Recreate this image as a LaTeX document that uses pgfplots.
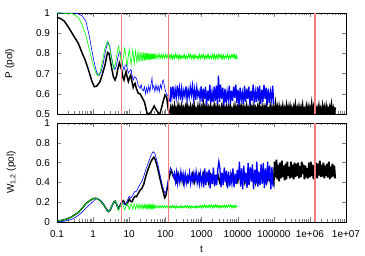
\documentclass[border=0pt]{standalone}
\usepackage{pgfplots}
\pgfplotsset{compat=1.18}
\usepackage{fontspec}
\setmainfont{Liberation Sans}
\definecolor{redl}{RGB}{245,125,125}
\begin{document}
\begin{tikzpicture}
\begin{axis}[scale only axis, width=289pt, height=101pt, xmode=log, xmin=0.1, xmax=1e7,
  xtick={0.1,1,10,100,1000,10000,100000,1000000,10000000},
  tick align=inside, major tick length=4.5pt, minor tick length=2.5pt,
  axis line style={line width=0.7pt},
  tick label style={font=\fontsize{10}{12}\selectfont},
  label style={font=\fontsize{10}{12}\selectfont},
  yticklabel style={xshift=-3.5pt},
  /pgf/number format/assume math mode=true,
  at={(57pt,-114pt)}, anchor=south west,
  ymin=0.5, ymax=1, ytick={0.5,0.6,0.7,0.8,0.9,1}, xticklabels={},
  ylabel={P (pol)}, ylabel style={at={(axis description cs:-0.163,0.5)}, anchor=center}]
% black
\addplot[black, line width=1.5pt] table[x expr={pow(10,\thisrowno{0})}, y index=1, row sep=\\] {
-1 0.979\\ -0.9 0.972\\ -0.8 0.96\\ -0.69 0.932\\ -0.55 0.89\\ -0.41 0.85\\ -0.3 0.80\\ -0.22 0.767\\ -0.15 0.73\\ -0.086 0.693\\ -0.03 0.66\\ 0.033 0.635\\ 0.1 0.638\\ 0.19 0.66\\ 0.26 0.70\\ 0.33 0.743\\ 0.37 0.78\\ 0.40 0.805\\ 0.44 0.80\\ 0.48 0.76\\ 0.515 0.726\\ 0.56 0.685\\ 0.607 0.668\\ 0.65 0.69\\ 0.68 0.72\\ 0.727 0.754\\ 0.76 0.735\\ 0.79 0.718\\ 0.825 0.68\\ 0.855 0.668\\ 0.88 0.69\\ 0.91 0.71\\ 0.94 0.685\\ 0.975 0.66\\ 1.01 0.68\\ 1.04 0.693\\ 1.075 0.66\\ 1.11 0.632\\ 1.135 0.645\\ 1.16 0.652\\ 1.2 0.625\\ 1.25 0.602\\ 1.3 0.60\\ 1.36 0.58\\ 1.42 0.56\\ 1.46 0.53\\ 1.49 0.505\\ 1.55 0.50\\ 1.62 0.515\\ 1.69 0.54\\ 1.75 0.52\\ 1.81 0.505\\ 1.85 0.50\\ 1.9 0.535\\ 1.95 0.57\\ 1.99 0.594\\ 2.04 0.58\\ 2.08 0.52\\ 2.12 0.503\\
};
\addplot[black, line width=1.8pt] table[x expr={pow(10,\thisrowno{0})}, y index=1, row sep=\\] {
2.12 0.503\\
2.150 0.532\\ 2.175 0.499\\ 2.200 0.527\\ 2.225 0.503\\ 2.250 0.536\\ 2.275 0.495\\ 2.300 0.524\\ 2.325 0.505\\ 2.350 0.538\\ 2.375 0.498\\ 2.400 0.529\\ 2.425 0.501\\ 2.450 0.534\\ 2.475 0.494\\ 2.500 0.526\\ 2.525 0.507\\ 2.550 0.531\\ 2.575 0.497\\ 2.600 0.540\\ 2.625 0.502\\
2.650 0.525\\ 2.675 0.496\\ 2.700 0.533\\ 2.725 0.504\\ 2.750 0.528\\ 2.775 0.493\\ 2.800 0.537\\ 2.825 0.500\\ 2.850 0.522\\ 2.875 0.506\\ 2.900 0.535\\ 2.925 0.498\\ 2.950 0.530\\ 2.975 0.495\\ 3.000 0.527\\ 3.025 0.503\\ 3.050 0.545\\ 3.075 0.499\\ 3.100 0.529\\ 3.125 0.494\\
3.150 0.532\\ 3.175 0.499\\ 3.200 0.527\\ 3.225 0.503\\ 3.250 0.536\\ 3.275 0.495\\ 3.300 0.524\\ 3.325 0.505\\ 3.350 0.538\\ 3.375 0.498\\ 3.400 0.529\\ 3.425 0.501\\ 3.450 0.534\\ 3.475 0.494\\ 3.500 0.526\\ 3.525 0.507\\ 3.550 0.531\\ 3.575 0.497\\ 3.600 0.540\\ 3.625 0.502\\
3.650 0.525\\ 3.675 0.496\\ 3.700 0.533\\ 3.725 0.504\\ 3.750 0.528\\ 3.775 0.493\\ 3.800 0.537\\ 3.825 0.500\\ 3.850 0.522\\ 3.875 0.506\\ 3.900 0.535\\ 3.925 0.498\\ 3.950 0.530\\ 3.975 0.495\\ 4.000 0.527\\ 4.025 0.503\\ 4.050 0.545\\ 4.075 0.499\\ 4.100 0.529\\ 4.125 0.494\\
4.150 0.532\\ 4.175 0.499\\ 4.200 0.527\\ 4.225 0.503\\ 4.250 0.536\\ 4.275 0.495\\ 4.300 0.524\\ 4.325 0.505\\ 4.350 0.538\\ 4.375 0.498\\ 4.400 0.529\\ 4.425 0.501\\ 4.450 0.534\\ 4.475 0.494\\ 4.500 0.526\\ 4.525 0.507\\ 4.550 0.531\\ 4.575 0.497\\ 4.600 0.540\\ 4.625 0.502\\
4.650 0.525\\ 4.675 0.496\\ 4.700 0.533\\ 4.725 0.504\\ 4.750 0.528\\ 4.775 0.493\\ 4.800 0.537\\ 4.825 0.500\\ 4.850 0.522\\ 4.875 0.506\\ 4.900 0.535\\ 4.925 0.498\\ 4.950 0.530\\ 4.975 0.495\\ 5.000 0.527\\ 5.025 0.503\\ 5.050 0.545\\ 5.075 0.499\\ 5.100 0.529\\ 5.125 0.494\\
5.150 0.532\\ 5.175 0.499\\ 5.200 0.527\\ 5.225 0.503\\ 5.250 0.536\\ 5.275 0.495\\ 5.300 0.524\\ 5.325 0.505\\ 5.350 0.538\\ 5.375 0.498\\ 5.400 0.529\\ 5.425 0.501\\ 5.450 0.534\\ 5.475 0.494\\ 5.500 0.526\\ 5.525 0.507\\ 5.550 0.531\\ 5.575 0.497\\ 5.600 0.540\\ 5.625 0.502\\
5.650 0.525\\ 5.675 0.496\\ 5.700 0.533\\ 5.725 0.504\\ 5.750 0.528\\ 5.775 0.493\\ 5.800 0.537\\ 5.825 0.500\\ 5.850 0.522\\ 5.875 0.506\\ 5.900 0.535\\ 5.925 0.498\\ 5.950 0.530\\ 5.975 0.495\\ 6.000 0.527\\ 6.025 0.503\\ 6.050 0.545\\ 6.075 0.499\\ 6.100 0.529\\ 6.125 0.494\\
6.150 0.532\\ 6.175 0.499\\ 6.200 0.527\\ 6.225 0.503\\ 6.250 0.536\\ 6.275 0.495\\ 6.300 0.524\\ 6.325 0.505\\ 6.350 0.538\\ 6.375 0.498\\ 6.400 0.529\\ 6.425 0.501\\ 6.450 0.534\\ 6.475 0.494\\ 6.500 0.526\\ 6.525 0.507\\ 6.550 0.531\\ 6.575 0.497\\ 6.600 0.540\\ 6.625 0.502\\
6.650 0.525\\ 6.675 0.496\\ 6.700 0.533\\
};
% blue
\addplot[blue, line width=0.6pt] table[x expr={pow(10,\thisrowno{0})}, y index=1, row sep=\\] {
-1 1.0\\ -0.5 0.999\\ -0.4 0.995\\ -0.3 0.985\\ -0.2 0.96\\ -0.1 0.88\\ -0.05 0.83\\ 0.0 0.78\\ 0.05 0.74\\ 0.1 0.705\\ 0.16 0.69\\ 0.22 0.71\\ 0.28 0.75\\ 0.34 0.81\\ 0.39 0.845\\ 0.42 0.853\\ 0.46 0.835\\ 0.5 0.79\\ 0.55 0.745\\ 0.6 0.72\\ 0.64 0.735\\ 0.68 0.775\\ 0.72 0.805\\ 0.74 0.81\\ 0.78 0.78\\ 0.82 0.74\\ 0.855 0.718\\ 0.89 0.74\\ 0.92 0.745\\ 0.95 0.72\\ 0.975 0.703\\ 1.0 0.71\\ 1.05 0.72\\ 1.08 0.69\\ 1.11 0.668\\ 1.15 0.685\\ 1.2 0.675\\ 1.25 0.64\\ 1.3 0.627\\ 1.33 0.645\\ 1.36 0.62\\ 1.39 0.615\\ 1.42 0.635\\ 1.45 0.6\\ 1.48 0.63\\ 1.51 0.605\\ 1.54 0.64\\ 1.57 0.61\\ 1.6 0.645\\ 1.63 0.678\\ 1.65 0.625\\ 1.68 0.64\\ 1.71 0.61\\ 1.74 0.645\\ 1.77 0.615\\ 1.8 0.64\\ 1.83 0.61\\ 1.86 0.645\\ 1.89 0.625\\ 1.92 0.66\\ 1.94 0.668\\ 1.97 0.64\\ 2.0 0.615\\ 2.04 0.595\\ 2.08 0.586\\ 2.11 0.575\\ 2.13 0.56\\
};
\addplot[blue, line width=1.3pt] table[x expr={pow(10,\thisrowno{0})}, y index=1, row sep=\\] {
2.13 0.56\\ 2.15 0.633\\ 2.18 0.584\\ 2.21 0.637\\ 2.24 0.574\\ 2.27 0.623\\ 2.30 0.581\\ 2.33 0.640\\ 2.36 0.591\\ 2.39 0.630\\ 2.42 0.570\\ 2.45 0.626\\ 2.48 0.577\\ 2.51 0.616\\ 2.54 0.588\\ 2.57 0.637\\ 2.60 0.574\\ 2.63 0.619\\ 2.66 0.584\\ 2.69 0.633\\ 2.72 0.595\\ 2.75 0.640\\ 2.78 0.577\\ 2.81 0.623\\ 2.84 0.570\\ 2.87 0.630\\ 2.90 0.588\\ 2.93 0.612\\ 2.96 0.574\\ 2.99 0.637\\
3.02 0.560\\ 3.05 0.625\\ 3.08 0.575\\ 3.11 0.635\\ 3.14 0.545\\ 3.17 0.615\\ 3.20 0.565\\ 3.23 0.645\\ 3.26 0.555\\ 3.29 0.610\\ 3.32 0.560\\ 3.35 0.635\\ 3.38 0.565\\ 3.41 0.640\\ 3.44 0.550\\ 3.47 0.690\\ 3.50 0.560\\ 3.53 0.645\\ 3.56 0.575\\ 3.59 0.630\\ 3.62 0.545\\ 3.65 0.625\\ 3.68 0.555\\ 3.71 0.610\\ 3.74 0.570\\ 3.77 0.640\\ 3.80 0.550\\ 3.83 0.615\\ 3.86 0.565\\ 3.89 0.635\\ 3.92 0.580\\ 3.95 0.645\\ 3.98 0.555\\ 4.01 0.620\\ 4.04 0.545\\ 4.07 0.630\\ 4.10 0.570\\ 4.13 0.605\\ 4.16 0.550\\ 4.19 0.640\\ 4.22 0.560\\ 4.25 0.625\\ 4.28 0.575\\ 4.31 0.635\\ 4.34 0.545\\ 4.37 0.615\\ 4.40 0.565\\ 4.43 0.645\\ 4.46 0.555\\ 4.49 0.610\\ 4.52 0.560\\ 4.55 0.635\\ 4.58 0.565\\ 4.61 0.640\\ 4.64 0.550\\ 4.67 0.620\\ 4.70 0.560\\ 4.73 0.645\\ 4.76 0.575\\ 4.79 0.630\\ 4.82 0.545\\ 4.85 0.625\\ 4.88 0.555\\ 4.91 0.610\\ 4.94 0.570\\ 4.97 0.640\\ 5.00 0.550\\
};
% green
\addplot[green, line width=0.6pt] table[x expr={pow(10,\thisrowno{0})}, y index=1, row sep=\\] {
-1 1.0\\ -0.6 0.998\\ -0.5 0.99\\ -0.4 0.975\\ -0.3 0.94\\ -0.2 0.89\\ -0.1 0.815\\ 0.0 0.745\\ 0.05 0.715\\ 0.1 0.695\\ 0.14 0.69\\ 0.2 0.71\\ 0.26 0.76\\ 0.32 0.82\\ 0.37 0.852\\ 0.40 0.858\\ 0.45 0.835\\ 0.5 0.785\\ 0.55 0.74\\ 0.574 0.725\\ 0.62 0.75\\ 0.66 0.80\\ 0.70 0.835\\ 0.74 0.80\\ 0.796 0.735\\ 0.875 0.825\\ 0.942 0.740\\ 1.0 0.820\\ 1.051 0.745\\ 1.097 0.815\\ 1.138 0.750\\ 1.176 0.812\\ 1.211 0.755\\ 1.243 0.810\\ 1.273 0.757\\ 1.301 0.808\\ 1.327 0.760\\ 1.352 0.806\\ 1.376 0.762\\ 1.398 0.805\\ 1.419 0.764\\ 1.439 0.803\\ 1.459 0.766\\ 1.477 0.802\\ 1.495 0.767\\ 1.512 0.801\\ 1.528 0.768\\ 1.544 0.800\\ 1.559 0.769\\ 1.574 0.799\\ 1.588 0.770\\ 1.602 0.798\\ 1.615 0.771\\ 1.628 0.797\\ 1.641 0.772\\ 1.653 0.797\\ 1.665 0.773\\ 1.677 0.796\\ 1.688 0.773\\ 1.699 0.796\\
1.72 0.774\\ 1.745 0.796\\ 1.77 0.775\\ 1.795 0.797\\ 1.82 0.775\\ 1.845 0.796\\ 1.87 0.776\\ 1.895 0.796\\ 1.92 0.775\\ 1.945 0.795\\ 1.97 0.776\\ 1.995 0.796\\ 2.02 0.776\\ 2.045 0.795\\ 2.07 0.777\\ 2.095 0.795\\
};
\addplot[green, line width=1.1pt] table[x expr={pow(10,\thisrowno{0})}, y index=1, row sep=\\] {
2.095 0.795\\ 2.10 0.793\\ 2.13 0.777\\ 2.16 0.794\\ 2.19 0.774\\ 2.22 0.790\\ 2.25 0.776\\ 2.28 0.795\\ 2.31 0.780\\ 2.34 0.792\\ 2.37 0.773\\ 2.40 0.791\\ 2.43 0.775\\ 2.46 0.787\\ 2.49 0.779\\ 2.52 0.794\\ 2.55 0.774\\ 2.58 0.788\\ 2.61 0.777\\ 2.64 0.793\\ 2.67 0.781\\ 2.70 0.795\\ 2.73 0.775\\ 2.76 0.790\\ 2.79 0.773\\ 2.82 0.792\\ 2.85 0.779\\ 2.88 0.786\\ 2.91 0.774\\ 2.94 0.794\\ 2.97 0.776\\ 3.00 0.791\\ 3.03 0.780\\ 3.06 0.793\\ 3.09 0.773\\ 3.12 0.788\\ 3.15 0.777\\ 3.18 0.795\\ 3.21 0.775\\ 3.24 0.787\\ 3.27 0.776\\ 3.30 0.793\\ 3.33 0.777\\ 3.36 0.794\\ 3.39 0.774\\ 3.42 0.790\\ 3.45 0.776\\ 3.48 0.795\\ 3.51 0.780\\ 3.54 0.792\\ 3.57 0.773\\ 3.60 0.791\\ 3.63 0.775\\ 3.66 0.787\\ 3.69 0.779\\ 3.72 0.794\\ 3.75 0.774\\ 3.78 0.788\\ 3.81 0.777\\ 3.84 0.793\\ 3.87 0.781\\ 3.90 0.795\\ 3.93 0.775\\ 3.96 0.790\\ 3.99 0.773\\
};
\addplot[redl, line width=1.3pt] coordinates {(6.04,0.5) (6.04,1)};
\addplot[redl, line width=1.3pt] coordinates {(124,0.5) (124,1)};
\addplot[redl, line width=1.3pt] coordinates {(1380000,0.5) (1380000,1)};
\end{axis}

\begin{axis}[scale only axis, width=289pt, height=99pt, xmode=log, xmin=0.1, xmax=1e7,
  xtick={0.1,1,10,100,1000,10000,100000,1000000,10000000},
  tick align=inside, major tick length=4.5pt, minor tick length=2.5pt,
  axis line style={line width=0.7pt},
  tick label style={font=\fontsize{10}{12}\selectfont},
  label style={font=\fontsize{10}{12}\selectfont},
  yticklabel style={xshift=-3.5pt},
  xticklabel style={yshift=-5pt},
  /pgf/number format/assume math mode=true,
  at={(57pt,-222pt)}, anchor=south west,
  ymin=0, ymax=1, ytick={0,0.2,0.4,0.6,0.8,1},
  xticklabels={0.1,1,10,100,1000,10000,100000,1e+06,1e+07},
  xlabel={t}, xlabel style={at={(axis description cs:0.5,-0.31)}, anchor=base},
  ylabel={W\textsubscript{1,2} (pol)}, ylabel style={at={(axis description cs:-0.158,0.5)}, anchor=center}]
% black
\addplot[black, line width=1.5pt] table[x expr={pow(10,\thisrowno{0})}, y index=1, row sep=\\] {
-1 0.01\\ -0.9 0.015\\ -0.8 0.022\\ -0.7 0.035\\ -0.6 0.05\\ -0.5 0.075\\ -0.4 0.10\\ -0.3 0.14\\ -0.2 0.185\\ -0.1 0.215\\ 0.0 0.235\\ 0.05 0.24\\ 0.1 0.238\\ 0.2 0.215\\ 0.3 0.17\\ 0.36 0.135\\ 0.42 0.105\\ 0.47 0.12\\ 0.53 0.17\\ 0.58 0.205\\ 0.61 0.21\\ 0.65 0.18\\ 0.7 0.13\\ 0.75 0.17\\ 0.8 0.205\\ 0.84 0.215\\ 0.88 0.185\\ 0.93 0.17\\ 0.97 0.205\\ 1.0 0.23\\ 1.04 0.21\\ 1.08 0.205\\ 1.12 0.24\\ 1.16 0.26\\ 1.2 0.255\\ 1.25 0.29\\ 1.3 0.32\\ 1.35 0.34\\ 1.4 0.38\\ 1.45 0.45\\ 1.5 0.51\\ 1.55 0.56\\ 1.6 0.61\\ 1.65 0.64\\ 1.68 0.655\\ 1.72 0.63\\ 1.76 0.58\\ 1.8 0.52\\ 1.85 0.44\\ 1.9 0.36\\ 1.95 0.29\\ 1.98 0.245\\ 2.01 0.26\\ 2.05 0.34\\ 2.1 0.44\\ 2.14 0.5\\ 2.17 0.52\\ 2.2 0.48\\ 2.25 0.44\\
2.30 0.405\\ 2.35 0.49\\ 2.40 0.42\\ 2.45 0.475\\ 2.50 0.39\\ 2.55 0.47\\ 2.60 0.40\\ 2.65 0.455\\ 2.70 0.415\\ 2.75 0.485\\ 2.80 0.395\\ 2.85 0.46\\ 2.90 0.41\\ 2.95 0.48\\ 3.00 0.425\\ 3.05 0.49\\ 3.10 0.40\\ 3.15 0.465\\ 3.20 0.39\\ 3.25 0.475\\ 3.30 0.415\\ 3.35 0.45\\ 3.40 0.395\\ 3.45 0.485\\ 3.50 0.405\\ 3.55 0.47\\ 3.60 0.42\\ 3.65 0.48\\ 3.70 0.39\\ 3.75 0.46\\ 3.80 0.41\\ 3.85 0.49\\ 3.90 0.40\\ 3.95 0.455\\ 4.00 0.405\\ 4.05 0.48\\ 4.10 0.41\\ 4.15 0.485\\ 4.20 0.395\\ 4.25 0.465\\ 4.30 0.405\\ 4.35 0.49\\ 4.40 0.42\\ 4.45 0.475\\ 4.50 0.39\\ 4.55 0.47\\ 4.60 0.40\\ 4.65 0.455\\ 4.70 0.415\\ 4.75 0.485\\ 4.80 0.395\\ 4.85 0.46\\ 4.90 0.41\\ 4.95 0.48\\
};
\addplot[black, line width=1.8pt] table[x expr={pow(10,\thisrowno{0})}, y index=1, row sep=\\] {
4.95 0.48\\ 5.000 0.40\\ 5.025 0.61\\ 5.050 0.45\\ 5.075 0.63\\ 5.100 0.43\\ 5.125 0.58\\ 5.150 0.41\\ 5.175 0.60\\ 5.200 0.44\\ 5.225 0.62\\ 5.250 0.455\\ 5.275 0.57\\ 5.300 0.42\\ 5.325 0.59\\ 5.350 0.43\\ 5.375 0.61\\ 5.400 0.465\\ 5.425 0.555\\ 5.450 0.44\\ 5.475 0.61\\ 5.500 0.45\\ 5.525 0.58\\ 5.550 0.43\\ 5.575 0.60\\ 5.600 0.455\\ 5.625 0.59\\ 5.650 0.465\\ 5.675 0.60\\ 5.700 0.44\\ 5.725 0.565\\ 5.750 0.455\\ 5.775 0.61\\ 5.800 0.485\\ 5.825 0.58\\ 5.850 0.43\\ 5.875 0.57\\ 5.900 0.45\\ 5.925 0.545\\ 5.950 0.44\\ 5.975 0.60\\ 6.000 0.455\\ 6.025 0.61\\ 6.050 0.465\\ 6.075 0.58\\ 6.100 0.43\\ 6.125 0.57\\ 6.150 0.45\\ 6.175 0.60\\ 6.200 0.44\\ 6.225 0.59\\ 6.250 0.47\\ 6.275 0.62\\ 6.300 0.455\\ 6.325 0.58\\ 6.350 0.46\\ 6.375 0.60\\ 6.400 0.44\\ 6.425 0.57\\ 6.450 0.465\\ 6.475 0.59\\ 6.500 0.45\\ 6.525 0.61\\ 6.550 0.43\\ 6.575 0.56\\ 6.600 0.45\\ 6.625 0.59\\ 6.650 0.46\\ 6.675 0.57\\ 6.700 0.44\\
};
% blue
\addplot[blue, line width=0.6pt] table[x expr={pow(10,\thisrowno{0})}, y index=1, row sep=\\] {
-1 0.0\\ -0.8 0.008\\ -0.6 0.025\\ -0.5 0.045\\ -0.4 0.07\\ -0.3 0.10\\ -0.2 0.14\\ -0.1 0.175\\ 0.0 0.205\\ 0.08 0.235\\ 0.15 0.232\\ 0.25 0.205\\ 0.3 0.175\\ 0.38 0.128\\ 0.44 0.108\\ 0.5 0.14\\ 0.56 0.195\\ 0.61 0.21\\ 0.66 0.17\\ 0.71 0.13\\ 0.76 0.18\\ 0.80 0.20\\ 0.86 0.18\\ 0.9 0.175\\ 0.95 0.22\\ 1.0 0.26\\ 1.04 0.24\\ 1.08 0.26\\ 1.12 0.29\\ 1.16 0.31\\ 1.2 0.31\\ 1.25 0.35\\ 1.3 0.38\\ 1.35 0.41\\ 1.4 0.46\\ 1.45 0.52\\ 1.5 0.57\\ 1.55 0.62\\ 1.6 0.67\\ 1.64 0.70\\ 1.67 0.71\\ 1.71 0.69\\ 1.75 0.64\\ 1.8 0.57\\ 1.85 0.48\\ 1.9 0.40\\ 1.95 0.33\\ 1.99 0.29\\ 2.03 0.32\\ 2.07 0.41\\ 2.11 0.50\\ 2.14 0.55\\ 2.17 0.52\\ 2.2 0.49\\ 2.22 0.45\\
};
\addplot[blue, line width=1.3pt] table[x expr={pow(10,\thisrowno{0})}, y index=1, row sep=\\] {
2.22 0.45\\ 2.25 0.493\\ 2.28 0.409\\ 2.31 0.499\\ 2.34 0.391\\ 2.37 0.475\\ 2.40 0.403\\ 2.43 0.505\\ 2.46 0.421\\ 2.49 0.487\\ 2.52 0.385\\ 2.55 0.481\\ 2.58 0.397\\ 2.61 0.463\\ 2.64 0.415\\ 2.67 0.499\\ 2.70 0.391\\ 2.73 0.469\\ 2.76 0.409\\ 2.79 0.493\\ 2.82 0.427\\ 2.85 0.505\\ 2.88 0.397\\ 2.91 0.475\\ 2.94 0.385\\ 2.97 0.487\\
3.00 0.393\\ 3.03 0.466\\ 3.06 0.351\\ 3.09 0.540\\ 3.12 0.372\\ 3.15 0.508\\ 3.18 0.403\\ 3.21 0.529\\ 3.24 0.340\\ 3.27 0.487\\ 3.30 0.382\\ 3.33 0.550\\ 3.36 0.361\\ 3.39 0.477\\ 3.42 0.372\\ 3.45 0.529\\ 3.48 0.610\\ 3.51 0.540\\ 3.54 0.351\\ 3.57 0.498\\ 3.60 0.372\\ 3.63 0.550\\ 3.66 0.403\\ 3.69 0.519\\ 3.72 0.340\\ 3.75 0.508\\ 3.78 0.361\\ 3.81 0.477\\ 3.84 0.393\\ 3.87 0.540\\ 3.90 0.351\\ 3.93 0.487\\ 3.96 0.382\\ 3.99 0.529\\
4.02 0.428\\ 4.05 0.610\\ 4.08 0.358\\ 4.11 0.540\\ 4.14 0.330\\ 4.17 0.568\\ 4.20 0.400\\ 4.23 0.498\\ 4.26 0.344\\ 4.29 0.596\\ 4.32 0.372\\ 4.35 0.554\\ 4.38 0.414\\ 4.41 0.582\\ 4.44 0.330\\ 4.47 0.526\\ 4.50 0.386\\ 4.53 0.610\\ 4.56 0.358\\ 4.59 0.512\\ 4.62 0.372\\ 4.65 0.582\\ 4.68 0.386\\ 4.71 0.596\\ 4.74 0.344\\ 4.77 0.540\\ 4.80 0.372\\ 4.83 0.610\\ 4.86 0.414\\ 4.89 0.568\\ 4.92 0.330\\ 4.95 0.554\\ 4.98 0.358\\
};
% green
\addplot[green, line width=0.6pt] table[x expr={pow(10,\thisrowno{0})}, y index=1, row sep=\\] {
-1 0.01\\ -0.9 0.015\\ -0.8 0.022\\ -0.7 0.035\\ -0.6 0.05\\ -0.5 0.075\\ -0.4 0.10\\ -0.3 0.14\\ -0.2 0.185\\ -0.1 0.215\\ 0.0 0.235\\ 0.05 0.24\\ 0.1 0.238\\ 0.2 0.215\\ 0.3 0.17\\ 0.36 0.135\\ 0.42 0.105\\ 0.47 0.12\\ 0.53 0.17\\ 0.58 0.205\\ 0.61 0.21\\ 0.65 0.185\\ 0.699 0.12\\ 0.796 0.20\\ 0.875 0.125\\ 0.942 0.19\\ 1.0 0.128\\ 1.051 0.185\\ 1.097 0.13\\ 1.138 0.182\\ 1.176 0.132\\ 1.211 0.18\\ 1.243 0.134\\ 1.273 0.178\\ 1.301 0.135\\ 1.327 0.176\\ 1.352 0.136\\ 1.376 0.175\\ 1.398 0.137\\ 1.419 0.174\\ 1.439 0.138\\ 1.459 0.173\\ 1.477 0.139\\ 1.495 0.172\\ 1.512 0.139\\ 1.528 0.171\\ 1.544 0.140\\ 1.559 0.170\\ 1.574 0.140\\ 1.588 0.169\\ 1.602 0.141\\ 1.615 0.168\\ 1.628 0.141\\ 1.641 0.168\\ 1.653 0.142\\ 1.665 0.167\\ 1.677 0.142\\ 1.688 0.167\\ 1.699 0.142\\
1.72 0.166\\ 1.745 0.142\\ 1.77 0.165\\ 1.795 0.143\\ 1.82 0.166\\ 1.845 0.143\\ 1.87 0.165\\ 1.895 0.143\\ 1.92 0.164\\ 1.945 0.143\\ 1.97 0.165\\ 1.995 0.144\\ 2.02 0.164\\ 2.045 0.143\\ 2.07 0.164\\ 2.095 0.144\\
};
\addplot[green, line width=1.1pt] table[x expr={pow(10,\thisrowno{0})}, y index=1, row sep=\\] {
2.095 0.144\\ 2.10 0.143\\ 2.13 0.159\\ 2.16 0.145\\ 2.19 0.164\\ 2.22 0.149\\ 2.25 0.161\\ 2.28 0.142\\ 2.31 0.160\\ 2.34 0.144\\ 2.37 0.156\\ 2.40 0.148\\ 2.43 0.163\\ 2.46 0.143\\ 2.49 0.157\\ 2.52 0.146\\ 2.55 0.162\\ 2.58 0.150\\ 2.61 0.164\\ 2.64 0.144\\ 2.67 0.159\\ 2.70 0.142\\ 2.73 0.161\\ 2.76 0.148\\ 2.79 0.155\\ 2.82 0.143\\ 2.85 0.163\\ 2.88 0.145\\ 2.91 0.160\\ 2.94 0.149\\ 2.97 0.162\\
3.00 0.144\\ 3.03 0.164\\ 3.06 0.150\\ 3.09 0.172\\ 3.12 0.147\\ 3.15 0.162\\ 3.18 0.148\\ 3.21 0.169\\ 3.24 0.150\\ 3.27 0.171\\ 3.30 0.145\\ 3.33 0.165\\ 3.36 0.148\\ 3.39 0.172\\ 3.42 0.152\\ 3.45 0.168\\ 3.48 0.144\\ 3.51 0.166\\ 3.54 0.147\\ 3.57 0.162\\ 3.60 0.151\\ 3.63 0.171\\ 3.66 0.145\\ 3.69 0.164\\ 3.72 0.150\\ 3.75 0.169\\ 3.78 0.154\\ 3.81 0.172\\ 3.84 0.147\\ 3.87 0.165\\ 3.90 0.144\\ 3.93 0.168\\ 3.96 0.151\\ 3.99 0.161\\
};
\addplot[redl, line width=1.3pt] coordinates {(6.04,0) (6.04,1)};
\addplot[redl, line width=1.3pt] coordinates {(124,0) (124,1)};
\addplot[redl, line width=1.3pt] coordinates {(1380000,0) (1380000,1)};
\end{axis}
\pgfresetboundingbox
\useasboundingbox (0,0) rectangle (365pt,-256pt);
\end{tikzpicture}
\end{document}
